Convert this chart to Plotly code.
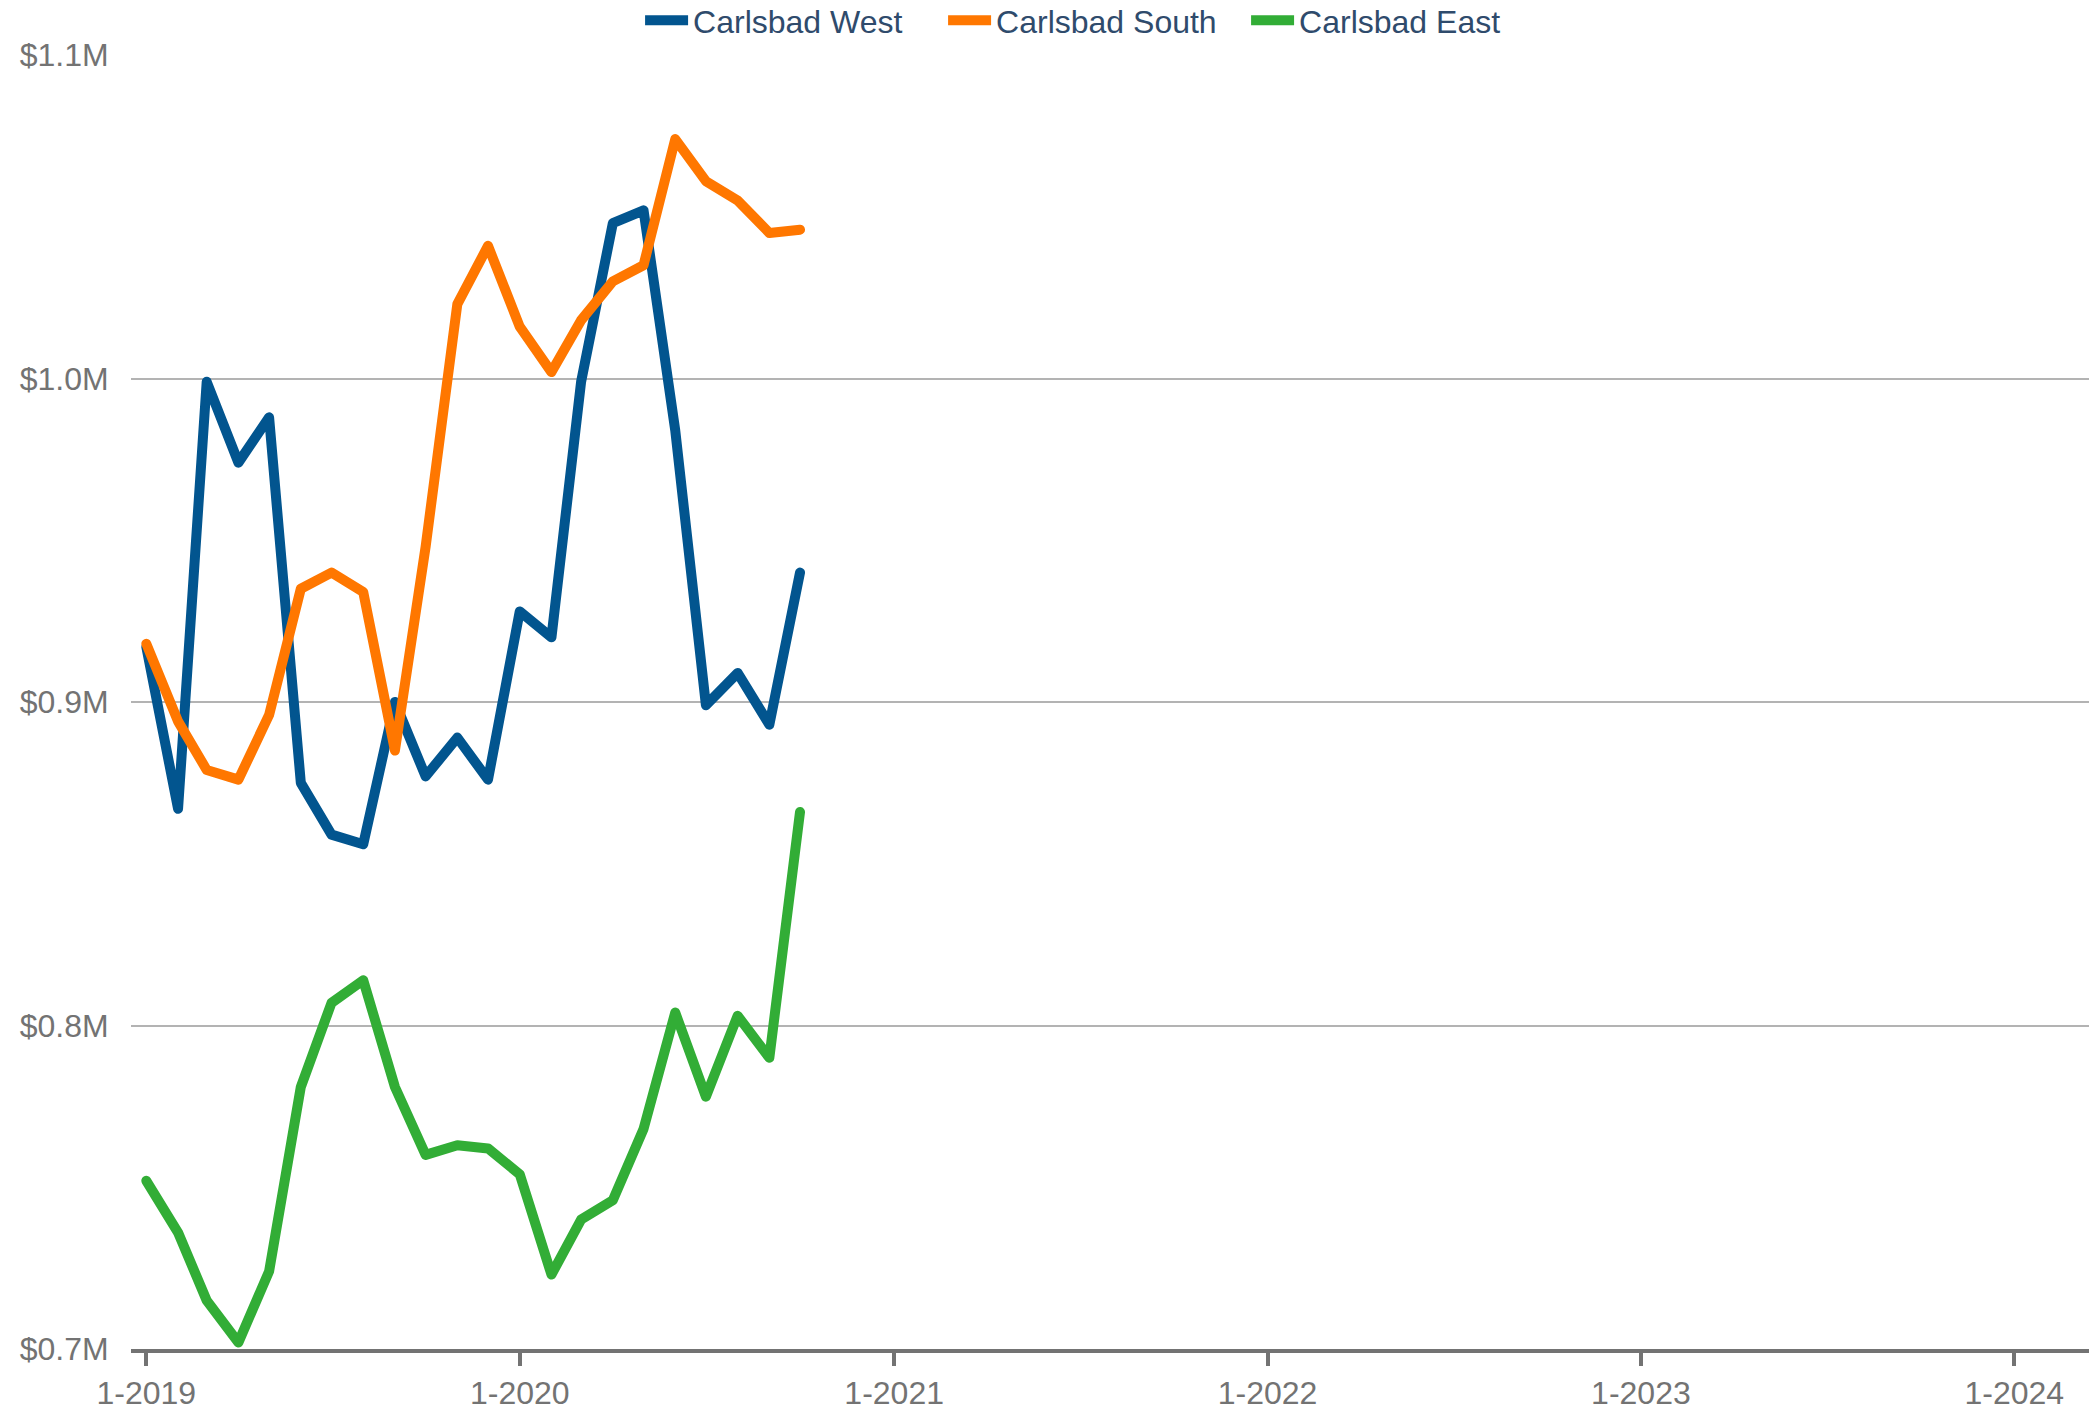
import plotly.graph_objects as go
import pandas as pd

months = pd.date_range("2019-01-01", periods=22, freq="MS").strftime("%Y-%m-%d").tolist()

west = [0.917, 0.867, 0.999, 0.974, 0.988, 0.875, 0.859, 0.856, 0.900, 0.877, 0.889,
        0.876, 0.928, 0.920, 0.999, 1.048, 1.052, 0.984, 0.899, 0.909, 0.893, 0.940]
south = [0.918, 0.894, 0.879, 0.876, 0.896, 0.935, 0.940, 0.934, 0.885, 0.948, 1.023,
         1.041, 1.016, 1.002, 1.018, 1.030, 1.035, 1.074, 1.061, 1.055, 1.045, 1.046]
east = [0.752, 0.736, 0.715, 0.702, 0.724, 0.781, 0.807, 0.814, 0.781, 0.760, 0.763,
        0.762, 0.754, 0.723, 0.740, 0.746, 0.768, 0.804, 0.778, 0.803, 0.790, 0.866]

series_names = ["Carlsbad West", "Carlsbad South", "Carlsbad East"]
series_colors = ["#02558f", "#ff7700", "#32ad36"]

FONT = "Liberation Sans, Arial, sans-serif"

fig = go.Figure()
for name, vals, col in zip(series_names, [west, south, east], series_colors):
    fig.add_trace(go.Scatter(
        x=months, y=vals, name=name, mode="lines",
        line=dict(color=col, width=10, shape="linear"),
    ))

fig.update_layout(
    width=2089, height=1410,
    margin=dict(l=131, r=0, t=55, b=61, autoexpand=False),
    paper_bgcolor="white", plot_bgcolor="white",
    font=dict(family=FONT, size=32, color="#737373"),
    showlegend=True,
    legend=dict(
        orientation="h", x=0.260, xanchor="left", y=1.048, yanchor="top",
        font=dict(family=FONT, size=32, color="#2f4b6c"),
        itemwidth=43, entrywidth=245, entrywidthmode="pixels",
        tracegroupgap=0, bgcolor="rgba(0,0,0,0)",
    ),
    xaxis=dict(
        type="date", range=["2018-12-17", "2024-03-14"], automargin=False,
        tick0="2019-01-01", dtick="M12", tickformat="%-m-%Y",
        showgrid=False, zeroline=False,
        showline=True, linecolor="#737373", linewidth=4,
        ticks="outside", ticklen=13, tickwidth=4, tickcolor="#737373",
        tickfont=dict(family=FONT, size=32, color="#737373"),
    ),
    yaxis=dict(
        range=[0.7, 1.1], tick0=0.7, dtick=0.1, automargin=False,
        tickprefix="$", ticksuffix="M", tickformat=".1f",
        showgrid=True, gridcolor="#b3b3b3", gridwidth=2,
        zeroline=False, showline=False,
        ticks="outside", ticklen=15, tickcolor="rgba(0,0,0,0)",
        tickfont=dict(family=FONT, size=32, color="#737373"),
    ),
)

post = (
    "document.body.style.margin='0px';"
    "document.querySelectorAll('.scatterlayer path.js-line').forEach(function(p){"
    "p.style.strokeLinejoin='round';p.style.strokeLinecap='round';});"
)

fig.write_html("out.html", config={"displayModeBar": False}, post_script=post)
